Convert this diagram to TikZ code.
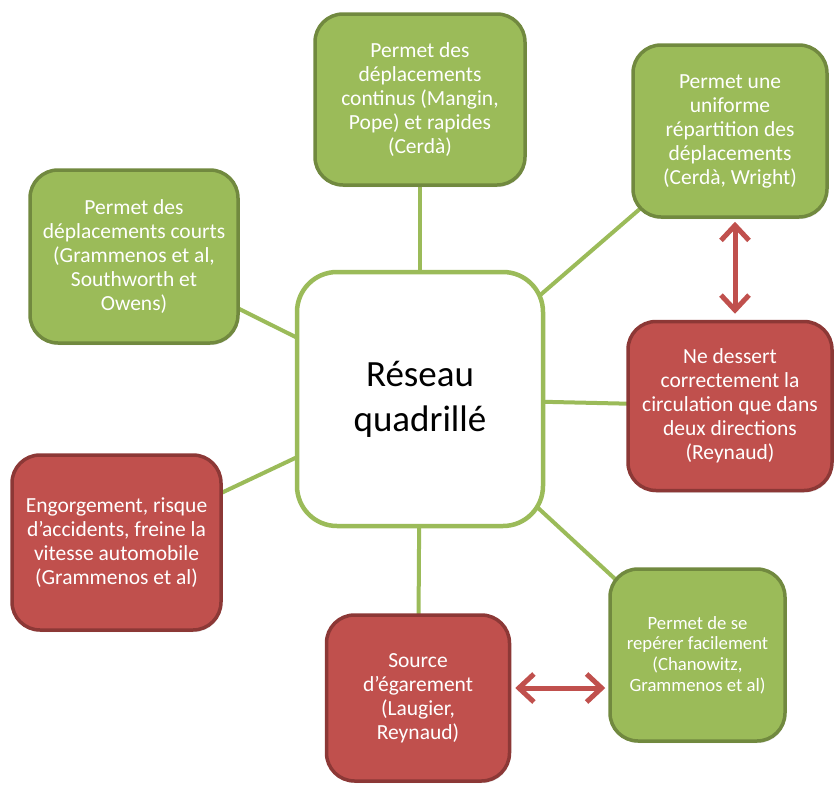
\documentclass[tikz,border=0pt]{standalone}
\usepackage{fontspec}
\setmainfont{Carlito}
\usetikzlibrary{arrows.meta,backgrounds,shadows}
\definecolor{gfill}{HTML}{9BBB59}
\definecolor{gdraw}{HTML}{71893F}
\definecolor{rfill}{HTML}{C0504D}
\definecolor{rdraw}{HTML}{8C3836}
\begin{document}
\begin{tikzpicture}[x=1pt,y=-1pt,
  box/.style={rectangle, rounded corners=28pt, line width=3.5pt, align=center, text=white,
    font=\fontsize{21.5}{24}\selectfont, inner sep=0pt,
    drop shadow={opacity=0.25,shadow xshift=1pt,shadow yshift=-2pt}},
  gbox/.style={box, fill=gfill, draw=gdraw},
  rbox/.style={box, fill=rfill, draw=rdraw},
  link/.style={line width=4pt, draw=gfill},
  dbl/.style={line width=5pt, draw=rfill,
    {Straight Barb[length=15pt,width=28pt]}-{Straight Barb[length=15pt,width=28pt]}},
]
\useasboundingbox (0,0) rectangle (836,785);

\node[rectangle, rounded corners=40pt, draw=gfill, line width=4.5pt, fill=white,
  minimum width=246pt, minimum height=254pt, align=center, inner sep=0pt,
  font=\fontsize{37}{45}\selectfont] (C) at (420,399) {Réseau\\quadrillé};

\node[gbox, minimum width=210pt, minimum height=171pt] (T) at (420,99.5)
  {Permet des\\déplacements\\continus (Mangin,\\Pope) et rapides\\(Cerdà)};
\node[gbox, minimum width=194pt, minimum height=172pt] (TR) at (730,131)
  {Permet une\\uniforme\\répartition des\\déplacements\\(Cerdà, Wright)};
\node[gbox, minimum width=208pt, minimum height=173pt] (L) at (134,256.5)
  {Permet des\\déplacements courts\\(Grammenos et al,\\Southworth et\\Owens)};
\node[rbox, minimum width=204pt, minimum height=169pt] (R) at (730,406)
  {Ne dessert\\correctement la\\circulation que dans\\deux directions\\(Reynaud)};
\node[rbox, minimum width=209pt, minimum height=175pt] (LR) at (116.5,542.5)
  {Engorgement, risque\\d’accidents, freine la\\vitesse automobile\\(Grammenos et al)};
\node[rbox, minimum width=183pt, minimum height=166pt] (B) at (418,698)
  {Source\\d’égarement\\(Laugier,\\Reynaud)};
\node[gbox, minimum width=175pt, minimum height=172pt, font=\fontsize{18.7}{20.7}\selectfont] (BR) at (697.5,655)
  {Permet de se\\repérer facilement\\(Chanowitz,\\Grammenos et al)};

\begin{scope}[on background layer]
  \foreach \n in {T,TR,L,R,LR,B,BR} \draw[link] (C.center) -- (\n.center);
\end{scope}

\draw[dbl, shorten <=3pt, shorten >=6pt] ([xshift=5pt]TR.south) -- ([xshift=5pt]R.north);
\draw[dbl, shorten <=4pt, shorten >=3pt] ([yshift=10pt]B.east) -- ([yshift=10pt]B.east -| BR.west);
\end{tikzpicture}
\end{document}
